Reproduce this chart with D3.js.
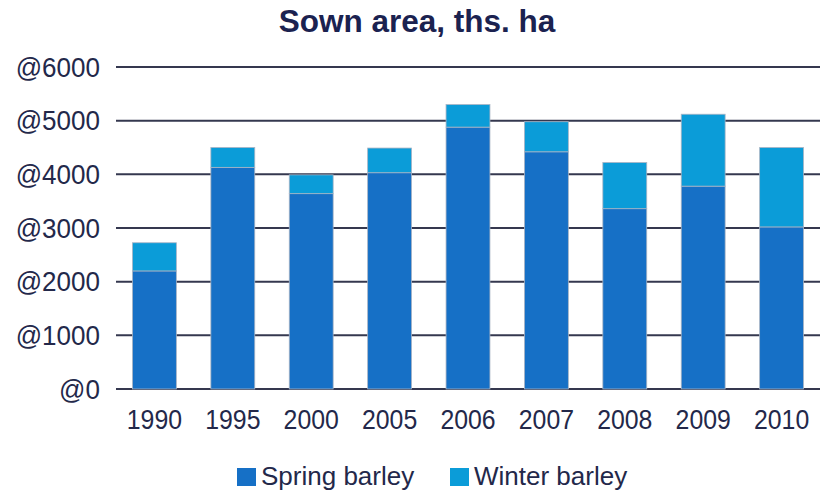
<!DOCTYPE html>
<html>
<head>
<meta charset="utf-8">
<script src="https://cdn.jsdelivr.net/npm/d3@7"></script>
<style>
  html, body { margin: 0; padding: 0; background: #fff; }
  svg { display: block; font-family: "Liberation Sans", Arial, sans-serif; }
</style>
</head>
<body>
<svg id="chart" width="824" height="490"></svg>
<script>
// chart data
const years = ['1990', '1995', '2000', '2005', '2006', '2007', '2008', '2009', '2010'];
const springBarley = [2200, 4130, 3640, 4030, 4880, 4420, 3360, 3780, 3020];
const winterBarley = [525, 370, 350, 460, 420, 560, 860, 1340, 1480];
const seriesNames = ['Spring barley', 'Winter barley'];
const yTicks = [0, 1000, 2000, 3000, 4000, 5000, 6000];

const colors = ['#1670c6', '#0b9cd8'];
const textColor = '#23284a';

const svg = d3.select('#chart');

// table for the stack layout
const rows = years.map((y, i) => ({ year: y, spring: springBarley[i], winter: winterBarley[i] }));
const stacked = d3.stack().keys(['spring', 'winter'])(rows);

const x = d3.scaleBand()
    .domain(years)
    .range([116, 820])
    .paddingInner(0.44)
    .paddingOuter(0.21);

const y = d3.scaleLinear()
    .domain([0, 6000])
    .range([389, 67]);

// title
svg.append('text')
    .attr('x', 417)
    .attr('y', 32)
    .attr('text-anchor', 'middle')
    .attr('font-size', 31.5)
    .attr('font-weight', 'bold')
    .attr('fill', '#1b2250')
    .text('Sown area, ths. ha');

// gridlines + y labels
const grid = svg.append('g');
grid.selectAll('line')
    .data(yTicks)
    .enter()
    .append('line')
    .attr('x1', 116)
    .attr('x2', 820)
    .attr('y1', d => y(d))
    .attr('y2', d => y(d))
    .attr('stroke', '#35384f')
    .attr('stroke-width', 2);

// labels are a bit narrow in the original, so squeeze them horizontally
grid.selectAll('text')
    .data(yTicks)
    .enter()
    .append('text')
    .attr('transform', d => `translate(100,${y(d)}) scale(0.93,1)`)
    .attr('dy', '0.35em')
    .attr('text-anchor', 'end')
    .attr('font-size', 28)
    .attr('fill', textColor)
    .text(d => '@' + d);

// bars
svg.append('g')
    .selectAll('g')
    .data(stacked)
    .enter()
    .append('g')
    .attr('fill', (d, i) => colors[i])
    .selectAll('rect')
    .data(d => d)
    .enter()
    .append('rect')
    .attr('x', d => x(d.data.year))
    .attr('width', x.bandwidth())
    .attr('y', d => y(d[1]))
    .attr('height', d => y(d[0]) - y(d[1]))
    .attr('stroke', '#aab4c4')
    .attr('stroke-width', 0.8);

// x labels
svg.append('g')
    .selectAll('text')
    .data(years)
    .enter()
    .append('text')
    .attr('transform', d => `translate(${x(d) + x.bandwidth() / 2},429) scale(0.92,1)`)
    .attr('text-anchor', 'middle')
    .attr('font-size', 27)
    .attr('fill', textColor)
    .text(d => d);

// legend
const legendX = [237, 450];
const legend = svg.append('g')
    .selectAll('g')
    .data(seriesNames)
    .enter()
    .append('g')
    .attr('transform', (d, i) => `translate(${legendX[i]},468)`);

legend.append('rect')
    .attr('width', 19)
    .attr('height', 18)
    .attr('fill', (d, i) => colors[i]);

legend.append('text')
    .attr('x', 24)
    .attr('y', 17)
    .attr('font-size', 26)
    .attr('fill', textColor)
    .text(d => d);
</script>
</body>
</html>
